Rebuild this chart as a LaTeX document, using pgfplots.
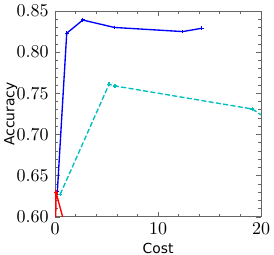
\documentclass[border=0pt]{standalone}
\usepackage{fontspec}
\usepackage{pgfplots}
\pgfplotsset{compat=1.18}
\newfontfamily\dejavu{DejaVu Sans}
\definecolor{mplc}{rgb}{0,0.75,0.75}
\begin{document}
\begin{tikzpicture}
\begin{axis}[
  scale only axis, width=114.4pt, height=114.4pt,
  xmin=0, xmax=20, ymin=0.60, ymax=0.85,
  xtick={0,10,20}, ytick={0.60,0.65,0.70,0.75,0.80,0.85},
  minor x tick num=4, minor y tick num=4,
  yticklabel style={/pgf/number format/.cd, fixed, fixed zerofill, precision=2},
  tick label style={font=\fontsize{10.4}{12}\selectfont},
  tick align=inside,
  axis line style={gray!80!black, line width=0.5pt},
  every tick/.style={gray!80!black, line width=0.4pt},
  major tick length=3pt, minor tick length=1.8pt,
  xlabel={Cost}, ylabel={Accuracy},
  label style={font=\dejavu\fontsize{7.7}{9}\selectfont},
  xlabel style={yshift=2pt},
  ylabel style={yshift=-7.2pt},
  clip=true,
]
\addplot[blue, line width=0.75pt, mark=+, mark size=1pt] coordinates {
 (0.22,0.631) (1.13,0.823) (2.69,0.839) (5.76,0.830) (12.4,0.825) (14.24,0.829)};
\addplot[mplc, dash pattern=on 2.8pt off 1.3pt, line width=0.75pt, mark=+, mark size=1pt, mark options={solid}] coordinates {
 (0.5,0.6275) (5.24,0.761) (5.82,0.759) (19.15,0.731) (20.6,0.719)};
\addplot[red, line width=0.75pt, mark=+, mark size=1pt] coordinates {
 (0.03,0.50) (0.08,0.630) (0.13,0.628) (1.6,0.56)};
\end{axis}
\pgfresetboundingbox
\path[use as bounding box] (-30.6pt,-21.1pt) rectangle (121.6pt,120.5pt);
\end{tikzpicture}
\end{document}
